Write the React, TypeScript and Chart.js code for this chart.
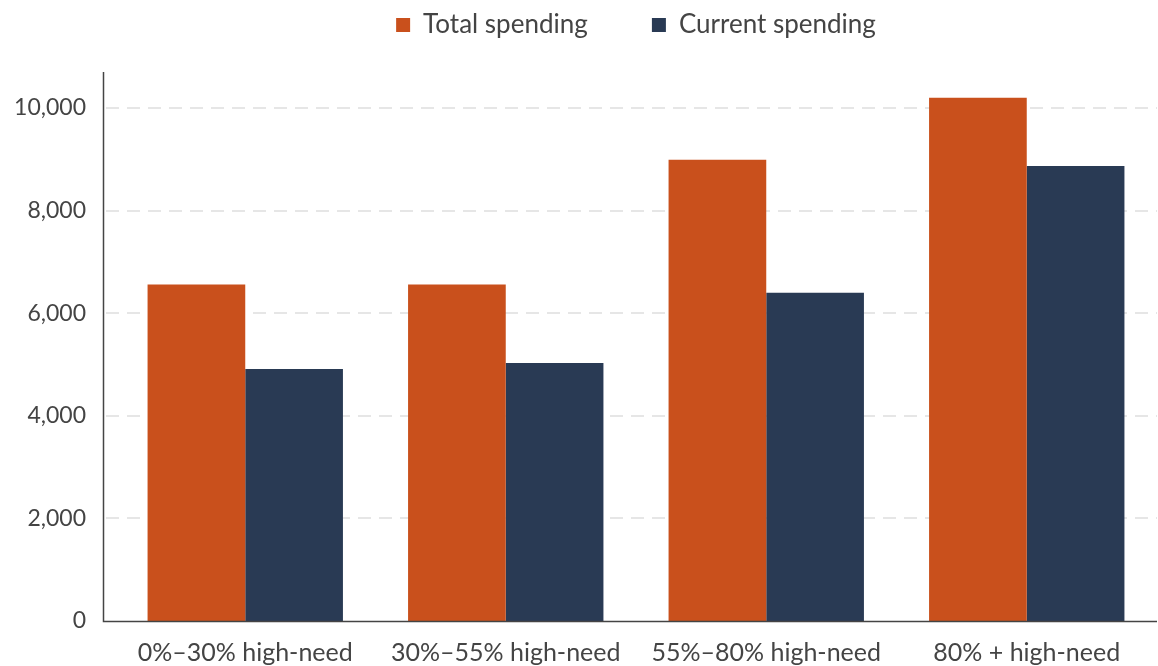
import React, { useEffect, useRef } from "react";
import { Chart, registerables } from "chart.js";

Chart.register(...registerables);

const categories = ["0%–30% high-need", "30%–55% high-need", "55%–80% high-need", "80% + high-need"];
const totalSpending = [6560, 6560, 8990, 10200];
const currentSpending = [4910, 5030, 6400, 8870];
const yTicks = [0, 2000, 4000, 6000, 8000, 10000];

const FONT = "Lato";
const ORANGE = "#C9501C";
const NAVY = "#293A54";
const TEXT = "#444444";

const axisPlugin = {
  id: "offsetAxes",
  beforeInit(chart: any) {
    const legend = chart.legend;
    if (legend) {
      const orig = legend.fit;
      legend.fit = function () {
        orig.call(this);
        this.height = 72;
      };
    }
  },
  afterLayout(chart: any) {
    const legend = chart.legend;
    if (legend) {
      legend.left = chart.chartArea.left;
      legend.right = chart.chartArea.right;
    }
  },
  beforeDatasetsDraw(chart: any) {
    const { ctx, chartArea, scales } = chart;
    const x0 = chartArea.left - 12;
    ctx.save();
    ctx.strokeStyle = "#e6e6e6";
    ctx.lineWidth = 2;
    ctx.setLineDash([13, 8]);
    yTicks.forEach((v) => {
      if (v === 0) return;
      const y = Math.round(scales.y.getPixelForValue(v));
      ctx.beginPath();
      ctx.moveTo(x0 + 3, y);
      ctx.lineTo(chartArea.right, y);
      ctx.stroke();
    });
    ctx.restore();
  },
  afterDatasetsDraw(chart: any) {
    const { ctx, chartArea, scales } = chart;
    const x0 = chartArea.left - 12 + 0.5;
    const yb = Math.round(scales.y.getPixelForValue(0)) + 0.5;
    ctx.save();
    ctx.strokeStyle = "#444444";
    ctx.lineWidth = 1.5;
    ctx.beginPath();
    ctx.moveTo(x0, chartArea.top);
    ctx.lineTo(x0, yb);
    ctx.lineTo(chartArea.right, yb);
    ctx.stroke();
    ctx.restore();
  },
};

export default function App() {
  const ref = useRef<HTMLCanvasElement>(null);
  useEffect(() => {
    if (!ref.current) return;
    const chart = new Chart(ref.current, {
      type: "bar",
      data: {
        labels: categories,
        datasets: [
          { label: "Total spending", data: totalSpending, backgroundColor: ORANGE, borderWidth: 0 },
          { label: "Current spending", data: currentSpending, backgroundColor: NAVY, borderWidth: 0 },
        ],
      },
      options: {
        animation: false,
        responsive: false,
        maintainAspectRatio: false,
        layout: { padding: { left: 0, right: 1, top: 0, bottom: 0 } },
        datasets: { bar: { categoryPercentage: 0.75, barPercentage: 1 } },
        plugins: {
          tooltip: { enabled: false },
          legend: {
            display: true,
            position: "top",
            labels: {
              boxWidth: 14,
              boxHeight: 14,
              padding: 12,
              color: TEXT,
              font: { family: FONT, size: 26 },
              generateLabels: (c: any) =>
                c.data.datasets.map((d: any, i: number) => ({
                  text: i === 0 ? d.label + "\u2003\u2003 \u2009\u2009" : d.label,
                  fillStyle: d.backgroundColor,
                  strokeStyle: d.backgroundColor,
                  lineWidth: 0,
                  datasetIndex: i,
                  fontColor: TEXT,
                })),
            },
          },
        },
        scales: {
          x: {
            grid: { display: false, drawTicks: false },
            border: { display: false },
            afterFit: (axis: any) => {
              axis.height = 45;
            },
            ticks: { color: TEXT, font: { family: FONT, size: 25 }, padding: 17, maxRotation: 0 },
          },
          y: {
            min: 0,
            max: 10700,
            grid: { display: false, drawTicks: false },
            border: { display: false },
            afterFit: (axis: any) => {
              axis.width = 115;
            },
            afterBuildTicks: (axis: any) => {
              axis.ticks = yTicks.map((v) => ({ value: v }));
            },
            ticks: {
              color: TEXT,
              font: { family: FONT, size: 23 },
              padding: 29,
              callback: (v: any) => Number(v).toLocaleString("en-US"),
            },
          },
        },
      },
      plugins: [axisPlugin],
    });
    return () => chart.destroy();
  }, []);
  return (
    <div style={{ position: "fixed", left: 0, top: 0, width: 1158, height: 666, background: "#fff" }}>
      <canvas ref={ref} width={1158} height={666} style={{ width: 1158, height: 666 }} />
    </div>
  );
}
